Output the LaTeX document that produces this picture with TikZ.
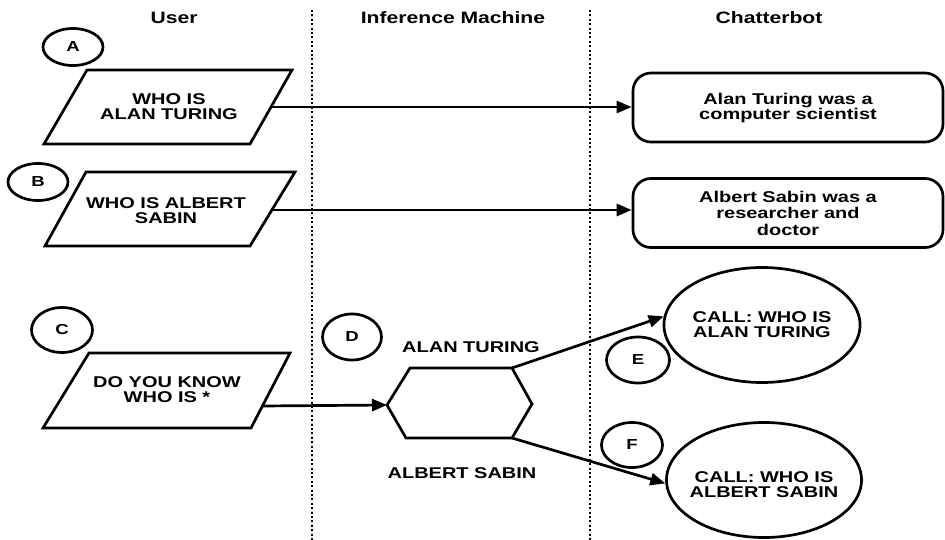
\documentclass[tikz,border=0pt]{standalone}
\usepackage{fontspec}
\setmainfont{Liberation Sans}[FakeStretch=1.28]
\usetikzlibrary{shapes.geometric,arrows.meta}
\begin{document}
\begin{tikzpicture}[x=1pt,y=-1pt,
  lw/.style={line width=2.7pt},
  txt/.style={font=\fontsize{15.6}{15}\selectfont\bfseries, align=center, inner sep=0pt},
  ttl/.style={font=\fontsize{16.5}{16}\selectfont\bfseries, inner sep=0pt},
  tag/.style={ellipse, draw, lw, inner sep=0pt, font=\fontsize{14.5}{14}\selectfont\bfseries},
  arr/.style={lw, -{Triangle[length=15pt,width=12pt]}},
  lane/.style={line width=2.4pt, dash pattern=on 2pt off 2.4pt},
  shp/.style={lw, line join=miter},
  rbox/.style={draw, lw, rounded corners=18pt, minimum width=310pt, minimum height=69pt, txt},
  bigell/.style={ellipse, draw, lw, minimum width=195pt, minimum height=115pt, txt},
  ]
\fill[white] (0,0) rectangle (945,540);
\useasboundingbox (0,0) rectangle (945,540);

% lanes
\coordinate (l1t) at (312,10); \coordinate (l1b) at (312,540);
\coordinate (l2t) at (590,10); \coordinate (l2b) at (590,540);
\draw[lane] (l1t) -- (l1b);
\draw[lane] (l2t) -- (l2b);

% titles
\node[ttl] (tuser) at (174,18) {User};
\node[ttl] (tinf) at (453,18) {Inference Machine};
\node[ttl] (tchat) at (769,18) {Chatterbot};

% tags
\node[tag, minimum width=60pt, minimum height=37pt] (ta) at (73,47) {A};
\node[tag, minimum width=60pt, minimum height=37pt] (tb) at (38,182) {B};
\node[tag, minimum width=61pt, minimum height=45pt] (tc) at (62,330) {C};
\node[tag, minimum width=59pt, minimum height=46pt] (td) at (352,337) {D};
\node[tag, minimum width=63pt, minimum height=46pt] (te) at (638,360) {E};
\node[tag, minimum width=61pt, minimum height=45pt] (tf) at (632,445) {F};

% user parallelograms
\draw[shp] (87,70) -- (292,70) -- (250,144) -- (44,144) -- cycle;
\node[txt] (qa) at (169,107) {WHO IS\\ALAN TURING};
\coordinate (aout) at (271,107);

\draw[shp] (86,172) -- (295,172) -- (250,246) -- (45,246) -- cycle;
\node[txt] (qb) at (166,211) {WHO IS ALBERT\\SABIN};
\coordinate (bout) at (272,210);

\draw[shp] (89,353) -- (290,353) -- (251,428) -- (43,428) -- cycle;
\node[txt] (qc) at (167,390) {DO YOU KNOW\\WHO IS *};
\coordinate (cout) at (262,406);

% chatterbot replies
\node[rbox] (ra) at (788,107.5) {Alan Turing was a\\computer scientist};
\node[rbox, font=\fontsize{15.6}{16.5}\selectfont\bfseries] (rb) at (788,213) {Albert Sabin was a\\researcher and\\doctor};

% hexagon
\coordinate (hl) at (387,405);
\coordinate (htl) at (410,368);
\coordinate (htr) at (512,368);
\coordinate (hr) at (532,404);
\coordinate (hbr) at (512,438);
\coordinate (hbl) at (406,438);
\draw[shp] (hl) -- (htl) -- (htr) -- (hr) -- (hbr) -- (hbl) -- cycle;
\node[txt] (lat) at (471,347) {ALAN TURING};
\node[txt] (las) at (462,473) {ALBERT SABIN};

% calls
\node[bigell] (ce) at (762,325) {CALL: WHO IS\\ALAN TURING};
\node[bigell] (cf) at (764,480) {};
\node[txt] (cft) at (764,485) {CALL: WHO IS\\ALBERT SABIN};

% connectors
\draw[arr] (aout) -- (aout -| ra.west);
\draw[arr] (bout) -- (bout -| rb.west);
\draw[arr] (cout) -- (hl);
\draw[arr] (htr) -- (ce.175);
\draw[arr] (hbr) -- (cf.182);
\end{tikzpicture}
\end{document}
